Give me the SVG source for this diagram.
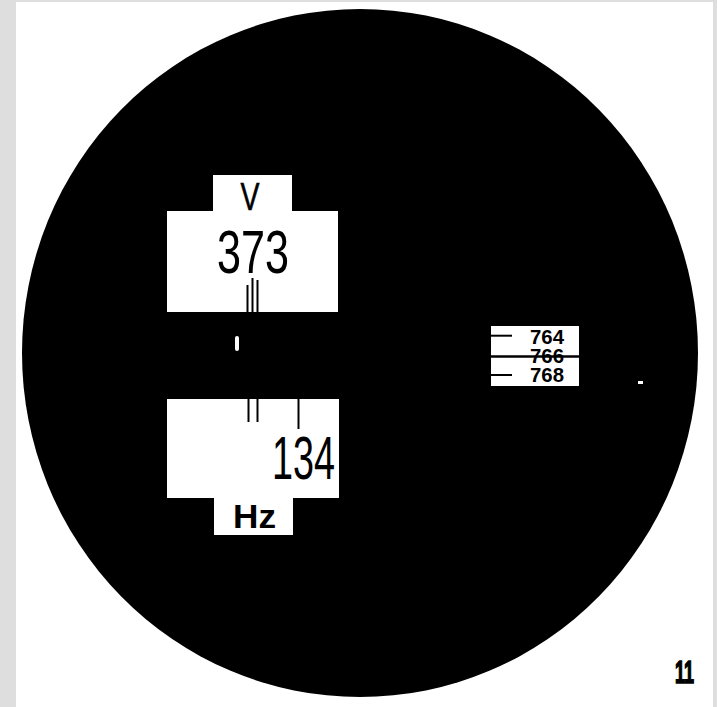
<svg xmlns="http://www.w3.org/2000/svg" width="717" height="707" viewBox="0 0 717 707">
<style>
.num{font-family:"Liberation Sans",Arial,sans-serif;fill:#000}
.tick{stroke:#000;stroke-width:2;fill:none}
.box{fill:#fff}
</style>
<rect x="0" y="0" width="717" height="707" fill="#dedede"/>
<rect x="16" y="2" width="697" height="705" fill="#fff"/>
<g id="scope">
<ellipse cx="360" cy="353" rx="338" ry="344" fill="#000"/>
<rect x="235" y="336" width="4" height="15" rx="2" fill="#fff"/>
<rect x="638" y="381" width="5" height="3" fill="#fff"/>
</g>
<g id="voltage">
<path class="box" d="M213,175 H292 V211 H338 V312 H167 V211 H213 Z"/>
<text class="num" x="250" y="210" font-size="38" text-anchor="middle" textLength="19" lengthAdjust="spacingAndGlyphs" stroke="#000" stroke-width="0.6">V</text>
<text class="num" x="217" y="273" font-size="61" textLength="72" lengthAdjust="spacingAndGlyphs">373</text>
<line class="tick" x1="247.5" y1="285" x2="247.5" y2="312"/>
<line class="tick" x1="252.5" y1="278" x2="252.5" y2="312"/>
<line class="tick" x1="257.5" y1="280" x2="257.5" y2="312"/>
</g>
<g id="frequency">
<path class="box" d="M167,399 H339 V498 H293 V535 H214 V498 H167 Z"/>
<line class="tick" x1="248.5" y1="399" x2="248.5" y2="422"/>
<line class="tick" x1="257.5" y1="399" x2="257.5" y2="422"/>
<line class="tick" x1="298.5" y1="399" x2="298.5" y2="429"/>
<text class="num" x="272" y="479" font-size="61" textLength="63" lengthAdjust="spacingAndGlyphs">134</text>
<text class="num" x="233" y="528" font-size="33.5" font-weight="bold" textLength="43" lengthAdjust="spacingAndGlyphs">Hz</text>
</g>
<g id="scale">
<rect class="box" x="491" y="326" width="88" height="60"/>
<line x1="491" y1="356.5" x2="582" y2="356.5" stroke="#000" stroke-width="2.5"/>
<line x1="491" y1="335.7" x2="512" y2="335.7" stroke="#000" stroke-width="2"/>
<line x1="491" y1="375" x2="512" y2="375" stroke="#000" stroke-width="2"/>
<text class="num" x="530" y="343.5" font-size="21" font-weight="bold" textLength="34" lengthAdjust="spacingAndGlyphs">764</text>
<text class="num" x="530" y="363" font-size="21" font-weight="bold" textLength="34" lengthAdjust="spacingAndGlyphs">766</text>
<text class="num" x="530" y="382" font-size="21" font-weight="bold" textLength="34" lengthAdjust="spacingAndGlyphs">768</text>
</g>
<text class="num" x="675" y="683" font-size="30.5" font-weight="bold" textLength="19" lengthAdjust="spacingAndGlyphs" stroke="#000" stroke-width="1.6">11</text>
</svg>
